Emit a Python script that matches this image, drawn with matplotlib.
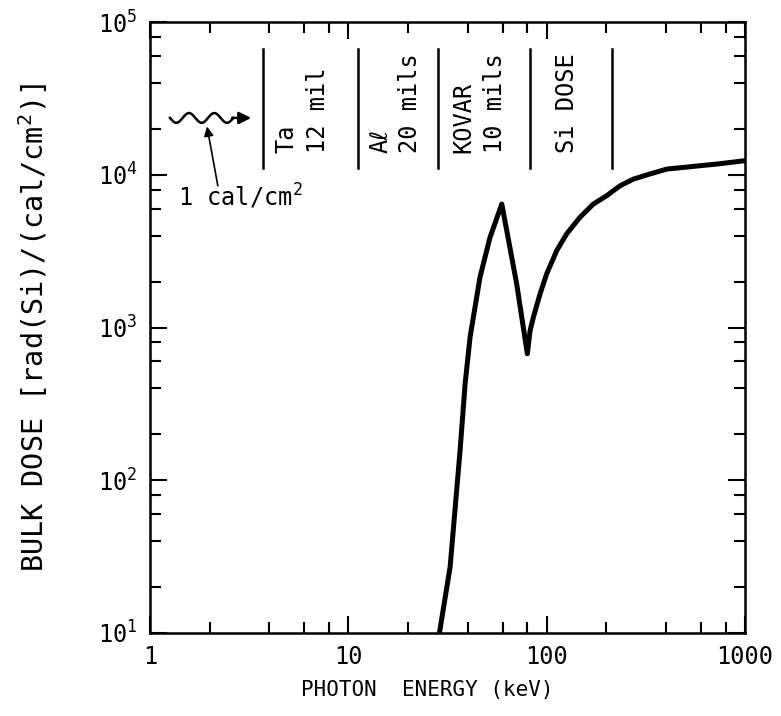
import numpy as np
import matplotlib
matplotlib.use("Agg")
import matplotlib.pyplot as plt
from matplotlib.ticker import LogLocator, FixedLocator, FixedFormatter, NullFormatter

# ---- data ----
energy_kev = [28.8, 32.6, 36.6, 38.8, 41.1, 46.1, 51.8, 59.4,
              70.6, 79.9, 82.5, 85.7, 92.6, 100, 112.4, 126, 147,
              172, 201, 234.5, 274, 332, 403, 489, 594, 721, 1000]
dose = [10, 27.1, 157, 428, 865, 2130, 3890, 6430,
        1930, 673, 955, 1167, 1660, 2245, 3185, 4093, 5260,
        6430, 7300, 8470, 9370, 10120, 10890, 11170, 11460, 11750, 12360]

# separator bars between the filter labels (keV)
bar_energies = [3.73, 11.2, 28.4, 82.5, 213]
bar_dose_range = [1.11e4, 6.67e4]

# filter labels: (energy position, text)
label_energies = [4.89, 7.06, 14.5, 20.5, 38.0, 55.0, 126]
label_texts = ["Ta", "12 mil", "A\u2113", "20 mils", "KOVAR", "10 mils", "Si DOSE"]
label_base_dose = 1.39e4

x_ticks = [1, 10, 100, 1000]
x_tick_labels = ["1", "10", "100", "1000"]
y_ticks = [1e1, 1e2, 1e3, 1e4, 1e5]
y_tick_labels = [r"$10^{1}$", r"$10^{2}$", r"$10^{3}$", r"$10^{4}$", r"$10^{5}$"]

FAM = ["DejaVu Sans Mono", "DejaVu Sans"]
plt.rcParams["font.family"] = FAM
plt.rcParams["mathtext.fontset"] = "custom"
plt.rcParams["mathtext.rm"] = "DejaVu Sans Mono"
plt.rcParams["mathtext.default"] = "regular"

W, H = 781, 716
fig = plt.figure(figsize=(W / 100, H / 100), dpi=100)
ax = fig.add_axes([150 / W, 1 - 633 / H, 595 / W, 611 / H])
ax.set_xscale("log")
ax.set_yscale("log")
ax.set_xlim(1, 1000)
ax.set_ylim(10, 1e5)

ax.plot(energy_kev, dose, color="black", lw=3.6, solid_joinstyle="round",
        solid_capstyle="butt")

ax.xaxis.set_major_locator(FixedLocator(x_ticks))
ax.xaxis.set_major_formatter(FixedFormatter(x_tick_labels))
ax.yaxis.set_major_locator(FixedLocator(y_ticks))
ax.yaxis.set_major_formatter(FixedFormatter(y_tick_labels))
for a in (ax.xaxis, ax.yaxis):
    a.set_minor_locator(LogLocator(base=10, subs=[2, 4, 6, 8], numticks=20))
    a.set_minor_formatter(NullFormatter())

ax.tick_params(which="both", direction="in", top=True, right=True,
               colors="black", width=1.5)
ax.tick_params(which="major", length=12, labelsize=17, pad=9)
ax.tick_params(which="minor", length=8)
for s in ax.spines.values():
    s.set_linewidth(1.8)

ax.set_xlabel("PHOTON  ENERGY (keV)", fontsize=15)
ax.xaxis.set_label_coords(0.466, -0.077)
ax.set_ylabel(r"BULK DOSE [rad(Si)/(cal/cm$^{2}$)]", fontsize=20.5)
ax.yaxis.set_label_coords(-0.168, 0.5)

# separator bars
for e in bar_energies:
    ax.plot([e, e], bar_dose_range, color="black", lw=1.8)

for e, t in zip(label_energies, label_texts):
    ax.text(e, label_base_dose, t, rotation=90, ha="center", va="bottom",
            fontsize=17, family=FAM)

# wavy incoming-radiation symbol (axes fraction coords)
tw = np.linspace(0, 1, 200)
wx = 0.0336 + tw * (0.140 - 0.0336)
wy = 0.843 + 0.008 * np.sin(tw * 2 * np.pi * 2.5 + np.pi)
ax.plot(wx, wy, color="black", lw=1.8, transform=ax.transAxes)
ax.annotate("", xy=(0.170, 0.843), xytext=(0.138, 0.843),
            xycoords="axes fraction", textcoords="axes fraction",
            arrowprops=dict(arrowstyle="-|>", color="black", lw=1.8,
                            mutation_scale=18, shrinkA=0, shrinkB=0))
ax.annotate("", xy=(0.0958, 0.829), xytext=(0.114, 0.732),
            xycoords="axes fraction", textcoords="axes fraction",
            arrowprops=dict(arrowstyle="-|>", color="black", lw=1.2,
                            mutation_scale=14, shrinkA=0, shrinkB=0))
ax.text(0.047, 0.699, r"1 cal/cm$^{2}$", transform=ax.transAxes,
        fontsize=17, ha="left", va="baseline", family=FAM)

fig.savefig("out.png", dpi=100)
